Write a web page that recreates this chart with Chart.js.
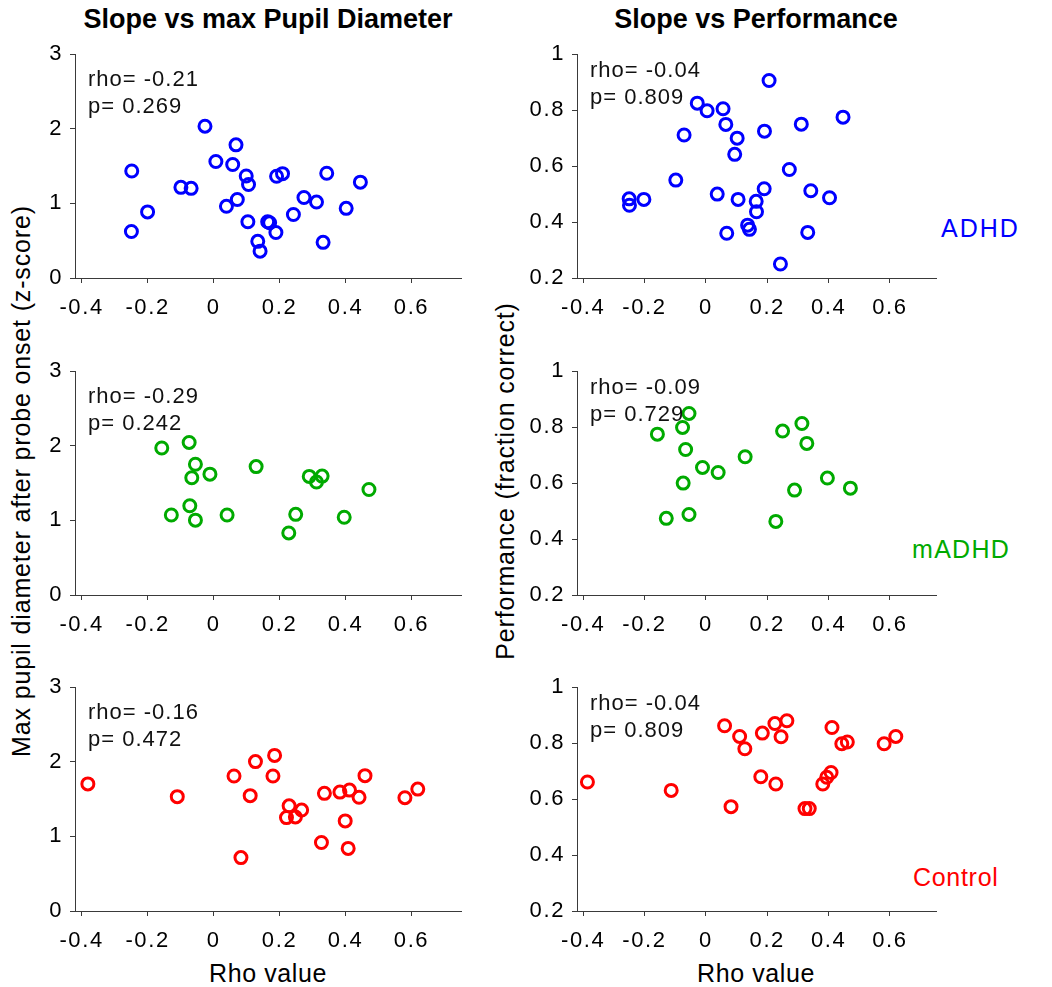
<!DOCTYPE html>
<html>
<head>
<meta charset="utf-8">
<script src="https://cdn.jsdelivr.net/npm/chart.js@4.4.1/dist/chart.umd.min.js"></script>
<style>
  body { margin: 0; background: #fff; }
  #page { position: relative; width: 1052px; height: 987px; overflow: hidden; font-family: "Liberation Sans", Arial, sans-serif; color: #000; }
  canvas { position: absolute; }
  .txt { position: absolute; white-space: nowrap; font-size: 25px; line-height: 25px; letter-spacing: 1px; }
  .title { position: absolute; white-space: nowrap; font-size: 27px; line-height: 27px; font-weight: bold; transform: translateX(-50%); }
  .ylab { position: absolute; white-space: nowrap; font-size: 25px; line-height: 25px; letter-spacing: 0.85px; transform: translate(-50%, -50%) rotate(-90deg); }
</style>
</head>
<body>
<div id="page">
  <div class="title" style="left:268px; top:6px;">Slope vs max Pupil Diameter</div>
  <div class="title" style="left:756px; top:6px;">Slope vs Performance</div>

  <div class="ylab" style="left:21px; top:481px;">Max pupil diameter after probe onset (z-score)</div>
  <div class="ylab" style="left:505px; top:481px;">Performance (fraction correct)</div>

  <div class="txt" style="left:941px; top:216px; color:#0000ff; letter-spacing:2px;">ADHD</div>
  <div class="txt" style="left:912px; top:537px; color:rgb(0,170,0); letter-spacing:1.3px;">mADHD</div>
  <div class="txt" style="left:913px; top:865px; color:#ff0000; letter-spacing:0.7px;">Control</div>

  <div class="txt" style="left:268px; top:961px; transform:translateX(-50%); letter-spacing:0.6px;">Rho value</div>
  <div class="txt" style="left:756px; top:961px; transform:translateX(-50%); letter-spacing:0.6px;">Rho value</div>

  <canvas id="pupil-adhd" width="480" height="294" style="left:0px; top:34px;"></canvas>
  <canvas id="perf-adhd" width="562" height="294" style="left:490px; top:34px;"></canvas>
  <canvas id="pupil-madhd" width="480" height="294" style="left:0px; top:351px;"></canvas>
  <canvas id="perf-madhd" width="562" height="294" style="left:490px; top:351px;"></canvas>
  <canvas id="pupil-control" width="480" height="294" style="left:0px; top:667px;"></canvas>
  <canvas id="perf-control" width="562" height="294" style="left:490px; top:667px;"></canvas>
</div>

<script>
// tick values
const rhoTicks = [-0.4, -0.2, 0, 0.2, 0.4, 0.6];
const pupilTicks = [0, 1, 2, 3];
const perfTicks = [0.2, 0.4, 0.6, 0.8, 1];

// ADHD
const adhdPupilX = [-0.248, -0.249, -0.2, -0.099, -0.068, -0.026, 0.007, 0.058, 0.068, 0.039, 0.072, 0.099, 0.106, 0.104, 0.134, 0.141, 0.164, 0.17, 0.189, 0.191, 0.209, 0.242, 0.274, 0.312, 0.332, 0.343, 0.402, 0.445];
const adhdPupilY = [1.434, 0.623, 0.886, 1.215, 1.202, 2.035, 1.561, 1.522, 1.785, 0.961, 1.053, 1.368, 1.254, 0.754, 0.491, 0.36, 0.754, 0.74, 0.61, 1.364, 1.399, 0.851, 1.079, 1.018, 0.478, 1.404, 0.934, 1.285];
const adhdPerfX = [-0.25, -0.249, -0.202, -0.098, -0.071, -0.028, 0.004, 0.056, 0.065, 0.037, 0.068, 0.102, 0.094, 0.105, 0.136, 0.142, 0.164, 0.165, 0.191, 0.19, 0.206, 0.243, 0.272, 0.311, 0.332, 0.342, 0.403, 0.447];
const adhdPerfY = [0.483, 0.46, 0.481, 0.55, 0.711, 0.825, 0.798, 0.805, 0.749, 0.5, 0.36, 0.7, 0.642, 0.481, 0.389, 0.374, 0.474, 0.437, 0.725, 0.519, 0.906, 0.25, 0.588, 0.75, 0.363, 0.512, 0.487, 0.775];

// mADHD
const madhdPupilX = [-0.157, -0.074, -0.055, -0.066, -0.011, -0.072, -0.128, -0.055, 0.041, 0.129, 0.228, 0.249, 0.29, 0.312, 0.329, 0.396, 0.471];
const madhdPupilY = [1.971, 2.045, 1.752, 1.572, 1.62, 1.196, 1.072, 1.003, 1.072, 1.721, 0.832, 1.081, 1.59, 1.515, 1.594, 1.042, 1.414];
const madhdPerfX = [-0.158, -0.129, -0.076, -0.055, -0.066, -0.074, -0.055, -0.011, 0.04, 0.128, 0.228, 0.25, 0.289, 0.313, 0.329, 0.396, 0.471];
const madhdPerfY = [0.775, 0.474, 0.799, 0.849, 0.72, 0.6, 0.488, 0.656, 0.638, 0.694, 0.463, 0.786, 0.575, 0.813, 0.742, 0.618, 0.582];

// Control
const controlPupilX = [-0.381, -0.11, 0.062, 0.127, 0.111, 0.083, 0.185, 0.18, 0.229, 0.221, 0.248, 0.267, 0.327, 0.336, 0.383, 0.412, 0.399, 0.408, 0.441, 0.459, 0.58, 0.619];
const controlPupilY = [1.704, 1.533, 1.809, 2.003, 1.546, 0.716, 2.086, 1.809, 1.41, 1.252, 1.261, 1.353, 0.918, 1.577, 1.594, 1.621, 1.208, 0.839, 1.524, 1.814, 1.519, 1.634];
const controlPerfX = [-0.386, -0.113, 0.061, 0.082, 0.11, 0.127, 0.179, 0.184, 0.225, 0.228, 0.245, 0.264, 0.323, 0.337, 0.381, 0.394, 0.408, 0.411, 0.443, 0.461, 0.581, 0.619];
const controlPerfY = [0.661, 0.631, 0.862, 0.573, 0.824, 0.78, 0.68, 0.836, 0.87, 0.654, 0.823, 0.88, 0.566, 0.566, 0.654, 0.678, 0.695, 0.856, 0.798, 0.804, 0.798, 0.824];

const blue = '#0000ff';
const green = 'rgb(0, 170, 0)';
const red = '#ff0000';
const axisColor = '#3a3a3a';

// text is a bit wider than plain Arial in the original
const spacing = {
  id: 'spacing',
  beforeUpdate(chart) { chart.ctx.letterSpacing = '1.6px'; },
  beforeDraw(chart) { chart.ctx.letterSpacing = '1.6px'; }
};

const statsText = {
  id: 'statsText',
  afterDatasetsDraw(chart, args, opts) {
    const ctx = chart.ctx;
    const area = chart.chartArea;
    ctx.save();
    ctx.letterSpacing = '1px';
    ctx.font = '22px "Liberation Sans", Arial, sans-serif';
    ctx.fillStyle = '#111';
    ctx.textAlign = 'left';
    ctx.textBaseline = 'alphabetic';
    opts.lines.forEach((line, i) => {
      ctx.fillText(line, area.left + 13, area.top + opts.offset + i * 27);
    });
    ctx.restore();
  }
};

function fmt(v) {
  return String(Math.round(v * 100) / 100);
}

function makePanel(id, xs, ys, color, yMin, yMax, yTicks, yAxisWidth, padRight, lines, offset) {
  const points = xs.map((x, i) => ({ x: x, y: ys[i] }));
  return new Chart(document.getElementById(id), {
    type: 'scatter',
    data: {
      datasets: [{
        data: points,
        pointStyle: 'circle',
        pointRadius: 6,
        borderWidth: 3,
        borderColor: color,
        backgroundColor: 'rgba(0,0,0,0)'
      }]
    },
    options: {
      responsive: false,
      animation: false,
      events: [],
      devicePixelRatio: 1,
      layout: { padding: { top: 16, right: padRight, bottom: 0, left: 0 } },
      plugins: {
        legend: { display: false },
        tooltip: { enabled: false },
        statsText: { lines: lines, offset: offset }
      },
      scales: {
        x: {
          type: 'linear',
          min: -0.42,
          max: 0.75,
          afterBuildTicks: s => { s.ticks = rhoTicks.map(v => ({ value: v })); },
          afterFit: s => { s.height = 50; },
          grid: { drawOnChartArea: false, drawTicks: true, tickLength: 5, color: axisColor },
          border: { display: true, color: axisColor, width: 1 },
          ticks: {
            padding: 12,
            maxRotation: 0,
            autoSkip: false,
            color: '#000',
            font: { family: '"Liberation Sans", Arial, sans-serif', size: 22 },
            callback: v => fmt(v)
          }
        },
        y: {
          type: 'linear',
          min: yMin,
          max: yMax,
          afterBuildTicks: s => { s.ticks = yTicks.map(v => ({ value: v })); },
          afterFit: s => { s.width = yAxisWidth; },
          grid: { drawOnChartArea: false, drawTicks: true, tickLength: 5, color: axisColor },
          border: { display: true, color: axisColor, width: 1 },
          ticks: {
            padding: 7,
            autoSkip: false,
            color: '#000',
            font: { family: '"Liberation Sans", Arial, sans-serif', size: 22 },
            callback: v => fmt(v)
          }
        }
      }
    },
    plugins: [spacing, statsText]
  });
}

makePanel('pupil-adhd', adhdPupilX, adhdPupilY, blue, 0, 3, pupilTicks, 75, 19, ['rho= -0.21', 'p= 0.269'], 32);
makePanel('perf-adhd', adhdPerfX, adhdPerfY, blue, 0.2, 1, perfTicks, 87, 116, ['rho= -0.04', 'p= 0.809'], 23);
makePanel('pupil-madhd', madhdPupilX, madhdPupilY, green, 0, 3, pupilTicks, 75, 19, ['rho= -0.29', 'p= 0.242'], 32);
makePanel('perf-madhd', madhdPerfX, madhdPerfY, green, 0.2, 1, perfTicks, 87, 116, ['rho= -0.09', 'p= 0.729'], 23);
makePanel('pupil-control', controlPupilX, controlPupilY, red, 0, 3, pupilTicks, 75, 19, ['rho= -0.16', 'p= 0.472'], 32);
makePanel('perf-control', controlPerfX, controlPerfY, red, 0.2, 1, perfTicks, 87, 116, ['rho= -0.04', 'p= 0.809'], 23);
</script>
</body>
</html>
